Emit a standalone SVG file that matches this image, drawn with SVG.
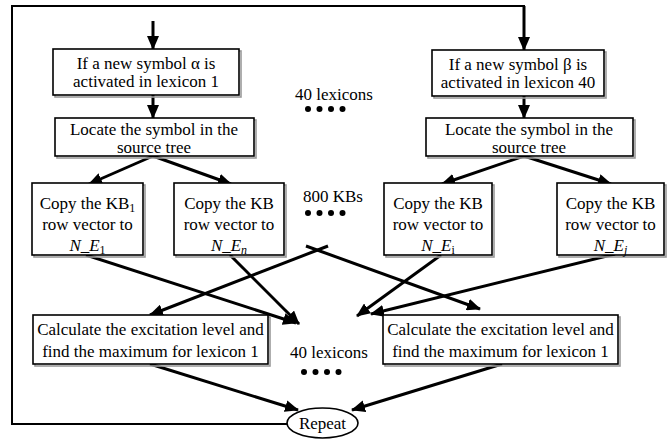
<svg xmlns="http://www.w3.org/2000/svg" width="671" height="442" viewBox="0 0 671 442">
  <style>
    .box { fill: #fff; stroke: #000; stroke-width: 1.6; }
    .shadow { fill: none; stroke: #9a9a9a; stroke-width: 1.6; }
    .t { font-family: "Liberation Serif", "Times New Roman", serif; font-size: 17px; fill: #000; text-anchor: middle; }
    .lbl { font-family: "Liberation Serif", "Times New Roman", serif; font-size: 17px; fill: #000; }
    .i { font-style: italic; }
    .sub { font-size: 12px; }
    .edge { fill: none; stroke: #000; stroke-width: 3; marker-end: url(#ah); }
    .loop { fill: none; stroke: #000; stroke-width: 2; }
    .dot { fill: #000; }
  </style>
  <defs>
    <marker id="ah" viewBox="0 0 14 12" refX="13" refY="6" markerWidth="14" markerHeight="12" markerUnits="userSpaceOnUse" orient="auto">
      <path d="M0,0 L14,6 L0,12 z" fill="#000"/>
    </marker>
  </defs>

  <rect width="671" height="442" fill="#fff"/>

  <!-- connectors -->
  <g id="connectors">
    <polyline class="loop" points="287,424 12,424 12,6 524,6 524,10"/>
    <line class="edge" x1="524" y1="6" x2="524" y2="50"/>
    <line class="edge" x1="153" y1="21" x2="153" y2="49"/>
    <line class="edge" x1="153" y1="95" x2="153" y2="118"/>
    <line class="edge" x1="524" y1="96" x2="524" y2="118"/>
    <line class="edge" x1="153" y1="156" x2="89" y2="184"/>
    <line class="edge" x1="153" y1="156" x2="231" y2="184"/>
    <line class="edge" x1="524" y1="156" x2="442" y2="184"/>
    <line class="edge" x1="524" y1="156" x2="611" y2="184"/>
    <line class="edge" x1="86" y1="255" x2="296" y2="323"/>
    <line class="edge" x1="230" y1="255" x2="299" y2="324"/>
    <line class="edge" x1="328" y1="246" x2="150" y2="315"/>
    <line class="edge" x1="306" y1="246" x2="480" y2="309"/>
    <line class="edge" x1="441" y1="255" x2="357" y2="316"/>
    <line class="edge" x1="615" y1="254" x2="371" y2="314"/>
    <line class="edge" x1="150" y1="364" x2="298" y2="410"/>
    <line class="edge" x1="502" y1="364" x2="352" y2="410"/>
  </g>

  <!-- top row -->
  <g id="detect1">
    <rect class="shadow" x="55" y="51" width="186" height="46"/>
    <rect class="box" x="53" y="49" width="186" height="46"/>
    <text class="t" x="146" y="69">If a new symbol α is</text>
    <text class="t" x="146" y="87">activated in lexicon 1</text>
  </g>
  <g id="detect40">
    <rect class="shadow" x="434" y="52" width="172" height="46"/>
    <rect class="box" x="432" y="50" width="172" height="46"/>
    <text class="t" x="518" y="70">If a new symbol β is</text>
    <text class="t" x="518" y="88">activated in lexicon 40</text>
  </g>

  <g id="locate1">
    <rect class="shadow" x="57" y="120" width="199" height="38"/>
    <rect class="box" x="55" y="118" width="199" height="38"/>
    <text class="t" x="154" y="135">Locate the symbol in the</text>
    <text class="t" x="154" y="153">source tree</text>
  </g>
  <g id="locate40">
    <rect class="shadow" x="428" y="120" width="207" height="38"/>
    <rect class="box" x="426" y="118" width="207" height="38"/>
    <text class="t" x="529" y="135">Locate the symbol in the</text>
    <text class="t" x="529" y="153">source tree</text>
  </g>

  <!-- copy boxes -->
  <g id="copyA">
    <rect class="shadow" x="34" y="185" width="111" height="72"/>
    <rect class="box" x="32" y="183" width="111" height="72"/>
    <text class="t" x="87.5" y="209">Copy the KB<tspan class="sub" dy="3">1</tspan></text>
    <text class="t" x="87.5" y="230">row vector to</text>
    <text class="t" x="87.5" y="251"><tspan class="i">N_E</tspan><tspan class="sub" dy="3">1</tspan></text>
  </g>
  <g id="copyB">
    <rect class="shadow" x="176" y="185" width="110" height="72"/>
    <rect class="box" x="174" y="183" width="110" height="72"/>
    <text class="t" x="229" y="209">Copy the KB</text>
    <text class="t" x="229" y="230">row vector to</text>
    <text class="t" x="229" y="251"><tspan class="i">N_E</tspan><tspan class="sub i" dy="3">n</tspan></text>
  </g>
  <g id="copyC">
    <rect class="shadow" x="386" y="185" width="108" height="72"/>
    <rect class="box" x="384" y="183" width="108" height="72"/>
    <text class="t" x="438" y="209">Copy the KB</text>
    <text class="t" x="438" y="230">row vector to</text>
    <text class="t" x="438" y="251"><tspan class="i">N_E</tspan><tspan class="sub" dy="3">i</tspan></text>
  </g>
  <g id="copyD">
    <rect class="shadow" x="559" y="185" width="107" height="72"/>
    <rect class="box" x="557" y="183" width="107" height="72"/>
    <text class="t" x="610.5" y="209">Copy the KB</text>
    <text class="t" x="610.5" y="230">row vector to</text>
    <text class="t" x="610.5" y="251"><tspan class="i">N_E</tspan><tspan class="sub i" dy="3">j</tspan></text>
  </g>

  <!-- excitation boxes -->
  <g id="calc1">
    <rect class="shadow" x="35" y="317" width="235" height="49"/>
    <rect class="box" x="33" y="315" width="235" height="49"/>
    <text class="t" x="150.5" y="335">Calculate the excitation level and</text>
    <text class="t" x="150.5" y="357">find the maximum for lexicon 1</text>
  </g>
  <g id="calc40">
    <rect class="shadow" x="385" y="317" width="235" height="49"/>
    <rect class="box" x="383" y="315" width="235" height="49"/>
    <text class="t" x="500.5" y="335">Calculate the excitation level and</text>
    <text class="t" x="500.5" y="357">find the maximum for lexicon 1</text>
  </g>

  <!-- loop terminator -->
  <g id="repeat">
    <ellipse class="box" cx="322.5" cy="423" rx="35.5" ry="15"/>
    <text class="t" x="322.5" y="429">Repeat</text>
  </g>

  <!-- ellipsis labels -->
  <g id="lexicons-top">
    <text class="t" x="334" y="100">40 lexicons</text>
    <circle class="dot" cx="308" cy="109" r="3"/>
    <circle class="dot" cx="319.5" cy="109" r="3"/>
    <circle class="dot" cx="331" cy="109" r="3"/>
    <circle class="dot" cx="342.5" cy="109" r="3"/>
  </g>
  <g id="kbs">
    <text class="t" x="333" y="202">800 KBs</text>
    <circle class="dot" cx="308" cy="213" r="3"/>
    <circle class="dot" cx="319.5" cy="213" r="3"/>
    <circle class="dot" cx="331" cy="213" r="3"/>
    <circle class="dot" cx="342.5" cy="213" r="3"/>
  </g>
  <g id="lexicons-bottom">
    <text class="t" x="329" y="358">40 lexicons</text>
    <circle class="dot" cx="304" cy="372" r="3"/>
    <circle class="dot" cx="315.5" cy="372" r="3"/>
    <circle class="dot" cx="327" cy="372" r="3"/>
    <circle class="dot" cx="338.5" cy="372" r="3"/>
  </g>
</svg>
